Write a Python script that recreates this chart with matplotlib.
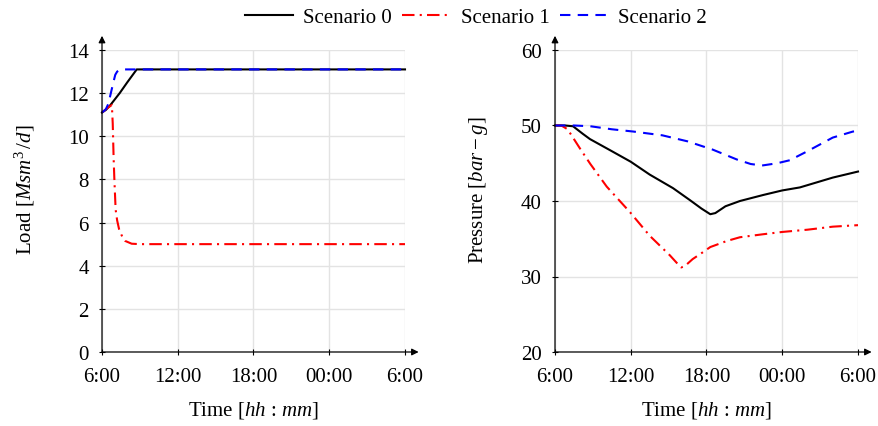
import matplotlib
matplotlib.use("Agg")
import matplotlib.pyplot as plt

plt.rcParams['font.family'] = ['Liberation Serif', 'DejaVu Serif']
plt.rcParams['mathtext.fontset'] = 'custom'
plt.rcParams['mathtext.rm'] = 'Liberation Serif'
plt.rcParams['mathtext.it'] = 'Liberation Serif:italic'
FS = 15
plt.rcParams['font.size'] = FS

# ---- data (hours after 6:00) ----
load_t0 = [0, 0.3, 0.6, 1.0, 1.4, 2.0, 2.75, 24]
load_v0 = [11.1, 11.22, 11.4, 11.7, 12.0, 12.5, 13.1, 13.1]
load_t1 = [0, 0.4, 0.78, 0.85, 0.92, 0.98, 1.08, 1.2, 1.35, 1.6, 1.83, 2.35, 3, 24]
load_v1 = [11.1, 11.3, 11.45, 10.6, 9.0, 8.0, 6.6, 6.1, 5.7, 5.35, 5.15, 5.02, 5.0, 5.0]
load_t2 = [0, 0.3, 0.5, 0.7, 0.9, 1.05, 1.2, 1.5, 24]
load_v2 = [11.1, 11.25, 11.5, 12.0, 12.5, 12.85, 13.0, 13.1, 13.1]

pres_t0 = [0, 0.8, 1.43, 2.2, 2.77, 4.5, 6.0, 7.5, 9.35, 10.7, 11.6, 12.3, 12.7, 13.5, 14.65, 16.5, 18.0, 19.4, 20.8, 22.0, 23.0, 24]
pres_v0 = [50, 50, 49.9, 48.9, 48.2, 46.6, 45.2, 43.5, 41.7, 40.1, 39.0, 38.25, 38.4, 39.3, 40.0, 40.8, 41.4, 41.8, 42.5, 43.1, 43.5, 43.9]
pres_t1 = [0, 0.5, 1.0, 2.0, 2.8, 4.1, 5.95, 7.5, 9.1, 9.7, 10.0, 10.3, 10.9, 11.7, 12.3, 13.6, 14.65, 16.5, 18.0, 20.0, 22.0, 24]
pres_v1 = [50, 50, 49.5, 46.9, 44.9, 41.9, 38.5, 35.4, 32.8, 31.7, 31.2, 31.4, 32.3, 33.2, 33.9, 34.7, 35.2, 35.6, 35.9, 36.2, 36.6, 36.8]
pres_t2 = [0, 1.5, 2.8, 4.5, 6.2, 8.5, 10.5, 12.5, 14.4, 15.5, 16.4, 17.6, 18.6, 20.0, 21.0, 22.0, 23.0, 23.6, 24]
pres_v2 = [50, 50, 49.9, 49.5, 49.2, 48.7, 47.9, 46.8, 45.5, 44.9, 44.7, 45.0, 45.4, 46.6, 47.5, 48.4, 48.9, 49.2, 49.25]

xticks = [0, 6, 12, 18, 24]
xticklabels = ['6:00', '12:00', '18:00', '00:00', '6:00']
load_yticks = [0, 2, 4, 6, 8, 10, 12, 14]
pres_yticks = [20, 30, 40, 50, 60]
labels = ['Scenario 0', 'Scenario 1', 'Scenario 2']

W, H = 879, 427
fig = plt.figure(figsize=(W / 100, H / 100), dpi=100)

def make_ax(x0, x1, ytop, ybot):
    return fig.add_axes([x0 / W, 1 - ybot / H, (x1 - x0) / W, (ybot - ytop) / H])

ax1 = make_ax(102, 405, 51, 353)
ax2 = make_ax(555, 858, 51, 353)

styles = [dict(color='black', lw=1.5, ls='-'),
          dict(color='#ff0000', lw=1.5, ls=(0, (6, 2.5, 1, 2.5))),
          dict(color='#0000ff', lw=1.5, ls=(0, (5, 3.5)))]

lines = []
for t, v, st, lab in zip([load_t0, load_t1, load_t2], [load_v0, load_v1, load_v2], styles, labels):
    l, = ax1.plot(t, v, label=lab, zorder=3, clip_on=False, **st)
    lines.append(l)
for t, v, st in zip([pres_t0, pres_t1, pres_t2], [pres_v0, pres_v1, pres_v2], styles):
    ax2.plot(t, v, zorder=3, clip_on=False, **st)

for ax, yt, ylab in [(ax1, load_yticks, r'Load [$Msm^3\,/d$]'),
                     (ax2, pres_yticks, r'Pressure [$bar-g$]')]:
    ax.set_xlim(0, 24)
    ax.set_ylim(yt[0], yt[-1])
    ax.set_xticks(xticks)
    ax.set_xticklabels(xticklabels)
    ax.set_yticks(yt)
    ax.grid(True, color='#e3e3e3', lw=1.0, zorder=0)
    ax.set_axisbelow(True)
    for s in ax.spines.values():
        s.set_visible(False)
    ax.tick_params(direction='inout', length=5, width=0.8, labelsize=FS)
    ax.tick_params(axis='x', pad=8)
    ax.tick_params(axis='y', pad=7)
    ax.set_ylabel(ylab, fontsize=FS)
    ax.yaxis.set_label_coords(-0.215, 0.54)
    ax.set_xlabel(r'Time [$hh$ : $mm$]', fontsize=FS)
    ax.xaxis.set_label_coords(0.5, -0.155)
    ax.annotate('', xy=(1.045, 0), xytext=(0, 0), xycoords='axes fraction',
                arrowprops=dict(arrowstyle='-|>', color='black', lw=0.9,
                                mutation_scale=10, shrinkA=0, shrinkB=0),
                annotation_clip=False)
    ax.annotate('', xy=(0, 1.047), xytext=(0, 0), xycoords='axes fraction',
                arrowprops=dict(arrowstyle='-|>', color='black', lw=0.9,
                                mutation_scale=10, shrinkA=0, shrinkB=0),
                annotation_clip=False)

fig.legend(handles=lines, labels=labels, loc='center', bbox_to_anchor=(476 / W, 1 - 18 / H),
           ncol=3, frameon=False, fontsize=FS, handlelength=2.3, columnspacing=0.5,
           handletextpad=0.5)

fig.savefig('out.png', dpi=100)
